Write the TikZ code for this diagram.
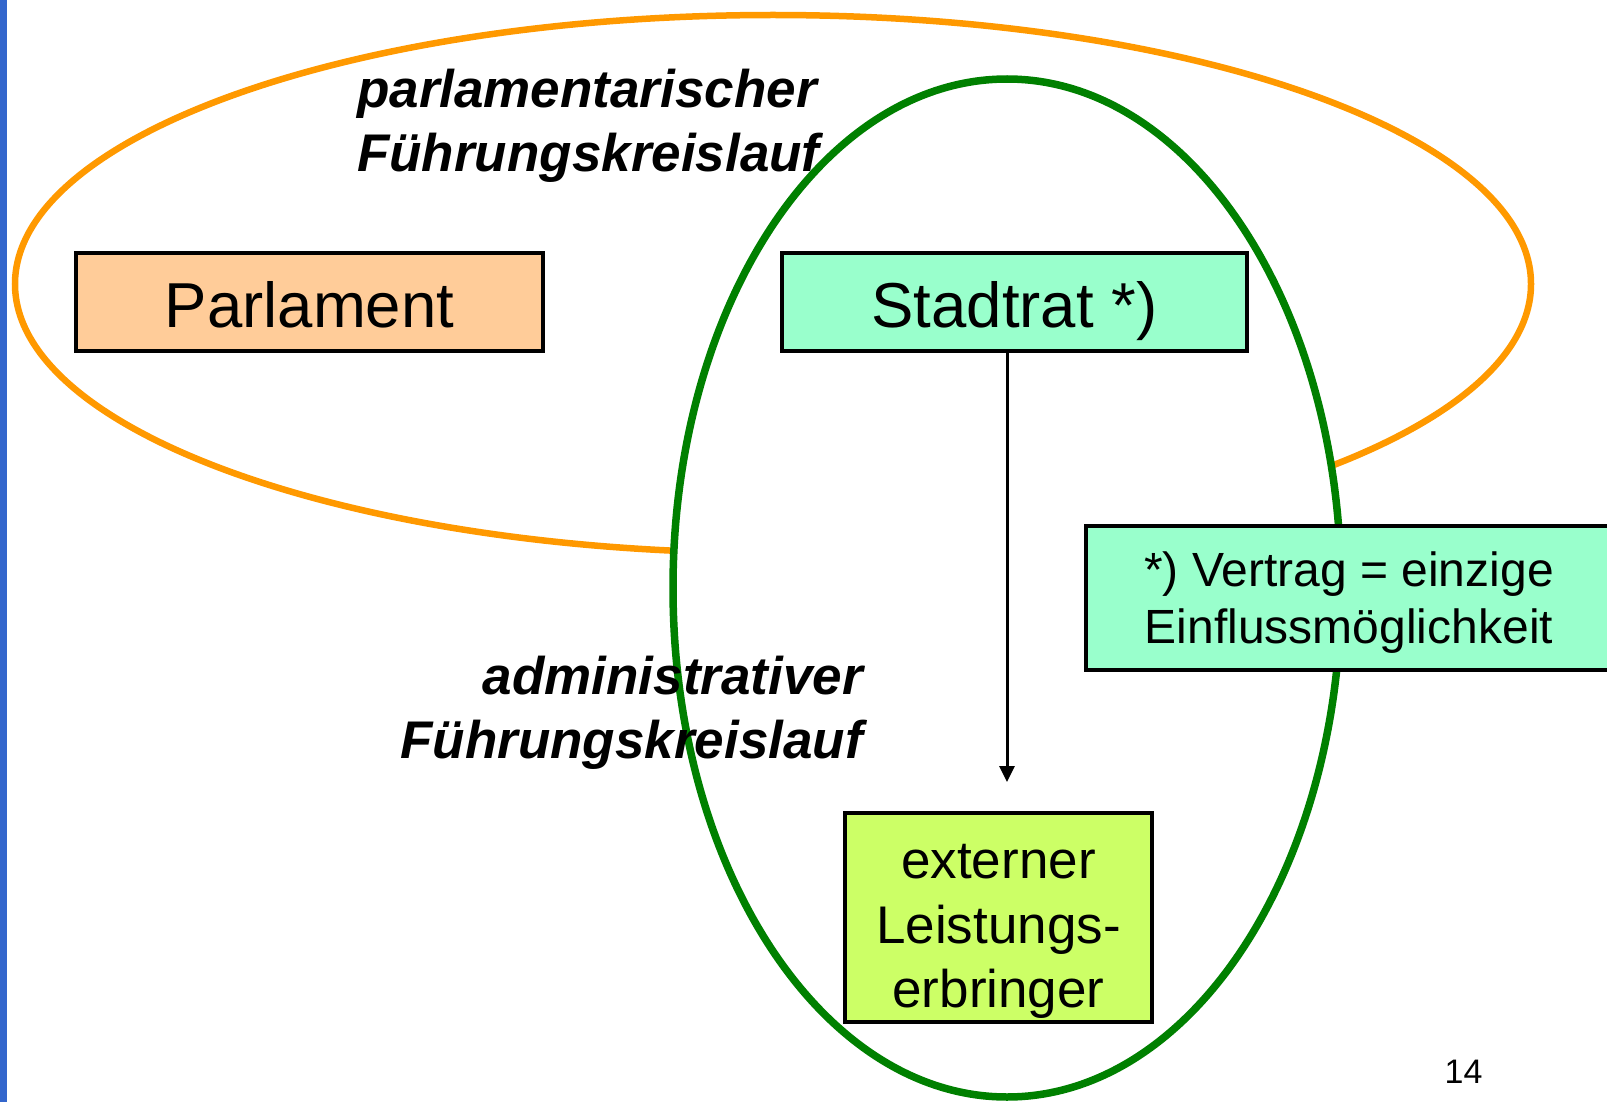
\documentclass[tikz,border=0pt]{standalone}
\usepackage{fontspec}
\setmainfont{Liberation Sans}
\usetikzlibrary{arrows.meta}
\definecolor{peach}{HTML}{FFCC99}
\definecolor{mint}{HTML}{99FFCC}
\definecolor{lime}{HTML}{CCFF66}
\definecolor{orng}{HTML}{FF9900}
\definecolor{grn}{HTML}{008000}
\definecolor{barblue}{HTML}{3366CC}
\tikzset{
  box/.style={draw=black, line width=3.5pt, inner sep=0pt, align=center},
  bigtxt/.style={font=\fontsize{63.5}{74}\selectfont, text height=50pt, text depth=0pt},
  midtxt/.style={font=\fontsize{53}{64.5}\selectfont},
  notetxt/.style={font=\fontsize{48}{57}\selectfont, align=center, inner sep=0pt},
  cycletxt/.style={font=\fontsize{53}{64}\selectfont\bfseries\itshape, inner sep=0pt},
  conn/.style={line width=3pt, -{Triangle[length=16pt,width=15pt]}}
}
\begin{document}
\begin{tikzpicture}[x=1pt,y=-1pt]
\useasboundingbox (0,0) rectangle (1607,1102);
\clip (0,0) rectangle (1607,1102);
\fill[white] (0,0) rectangle (1607,1102);
\fill[barblue] (0,0) rectangle (7,1102);
% ellipses
\draw[orng, line width=6.5pt] (773,284) ellipse [x radius=758pt, y radius=269pt];
\draw[grn, line width=7.5pt, fill=white] (1007,588) ellipse [x radius=334pt, y radius=509pt];
% boxes
\node[box, fill=peach, bigtxt, minimum width=467pt, minimum height=98pt] (parl) at (309.5,302) {Parlament};
\node[box, fill=mint, bigtxt, minimum width=465pt, minimum height=98pt] (stadt) at (1014.5,302) {Stadtrat *)};
\node[box, fill=lime, midtxt, minimum width=307pt, minimum height=209pt] (ext) at (998.5,917.5) {\rule{0pt}{62pt}externer\\Leistungs-\\erbringer};
\node[box, fill=mint, minimum width=560pt, minimum height=144pt, anchor=west] (note) at (1084,598) {};
\node[notetxt] (notetext) at (1349,603) {*) Vertrag = einzige\\Einflussmöglichkeit};
% connector
\coordinate (tip) at (1007,782);
\draw[conn] (stadt.south -| tip) -- (tip);
% labels
\node[cycletxt, align=left, anchor=base west] (parlcycle) at (357,172) {parlamentarischer\\Führungskreislauf};
\node[cycletxt, align=right, anchor=base east] (admcycle) at (863,758) {administrativer\\Führungskreislauf};
\node[font=\fontsize{34}{40}\selectfont, anchor=base, inner sep=0pt] (page) at (1463.5,1083) {14};
\end{tikzpicture}
\end{document}
